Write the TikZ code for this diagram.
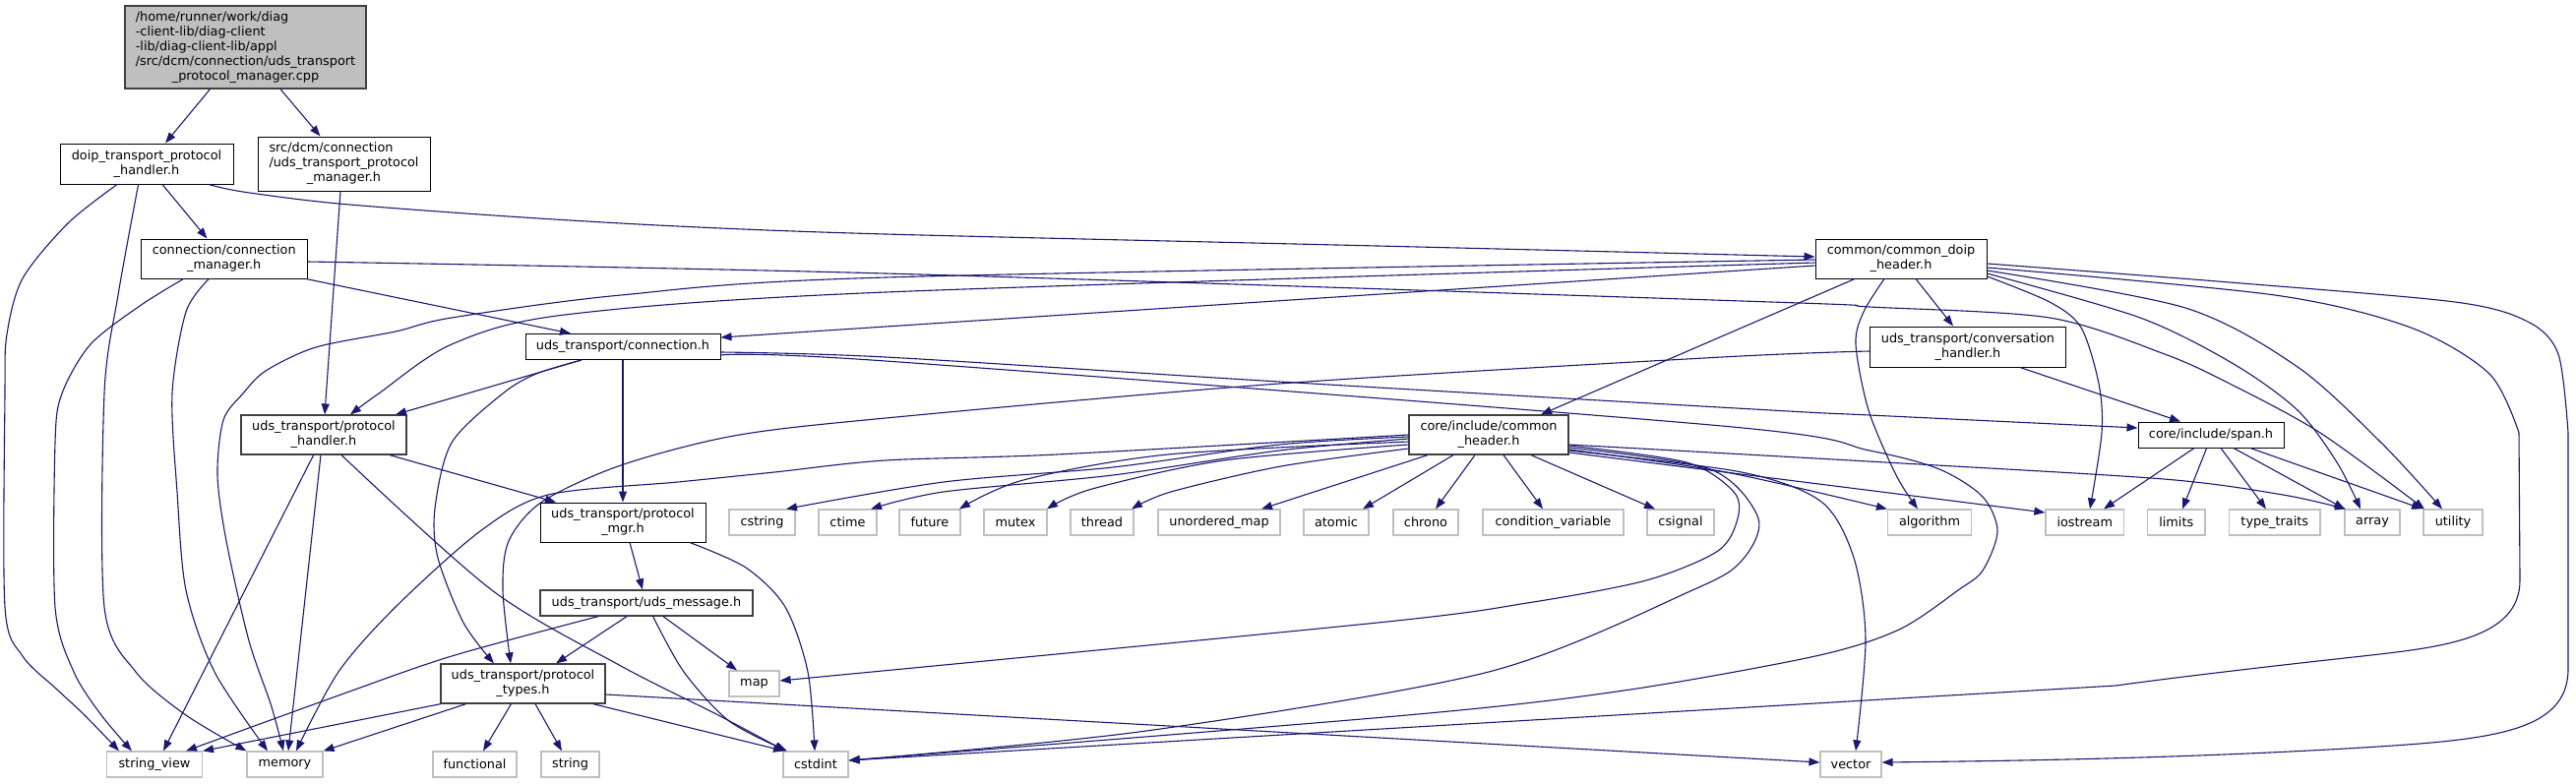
\documentclass[tikz,border=0pt]{standalone}
\usepackage{fontspec}
\setmainfont{DejaVu Sans}
\usetikzlibrary{arrows.meta}
\definecolor{edgecol}{HTML}{191970}
\definecolor{leafgray}{HTML}{BFBFBF}
\definecolor{dgray}{HTML}{404040}
\definecolor{rootfill}{HTML}{BFBFBF}
\newcommand{\nfont}{\fontsize{12.85}{15}\selectfont}
\newcommand{\mlab}[2]{\begin{tabular}{@{}l@{}}#1\\\multicolumn{1}{@{}c@{}}{#2}\end{tabular}}
\tikzset{
  nd/.style={draw=black, fill=white, line width=1pt, inner sep=0pt, font=\nfont, align=center},
  ndg/.style={nd, draw=dgray, line width=1.2pt},
  leaf/.style={nd, draw=leafgray, line width=1.2pt, minimum height=26pt},
  edg/.style={draw=edgecol, line width=1.1pt, -{Triangle[length=11pt,width=8pt]}},
}
\begin{document}
\begin{tikzpicture}[x=1pt,y=-1pt]
\useasboundingbox (0,0) rectangle (2618,796);
% ---- nodes ----
\node[ndg, fill=rootfill, minimum width=245pt, minimum height=84pt] (root) at (249.5,48)
  {\begin{tabular}{@{}l@{}}/home/runner/work/diag\\-client-lib/diag-client\\-lib/diag-client-lib/appl\\/src/dcm/connection/uds\_transport\\\multicolumn{1}{@{}c@{}}{\_protocol\_manager.cpp}\end{tabular}};
\node[nd, minimum width=176pt, minimum height=41pt] (doip) at (149,166.5) {\mlab{doip\_transport\_protocol}{\_handler.h}};
\node[nd, minimum width=175pt, minimum height=55pt] (srcdcm) at (349.5,166.5)
  {\begin{tabular}{@{}l@{}}src/dcm/connection\\/uds\_transport\_protocol\\\multicolumn{1}{@{}c@{}}{\_manager.h}\end{tabular}};
\node[nd, minimum width=168.5pt, minimum height=40pt] (connmgr) at (227.75,263) {\mlab{connection/connection}{\_manager.h}};
\node[nd, minimum width=198pt, minimum height=26pt] (connection) at (633,352.5) {uds\_transport/connection.h};
\node[ndg, minimum width=168pt, minimum height=40pt] (protohandler) at (329,442) {\mlab{uds\_transport/protocol}{\_handler.h}};
\node[nd, minimum width=168pt, minimum height=40pt] (protomgr) at (633,531) {\mlab{uds\_transport/protocol}{\_mgr.h}};
\node[ndg, minimum width=216pt, minimum height=26pt] (udsmsg) at (657,613) {uds\_transport/uds\_message.h};
\node[ndg, minimum width=167pt, minimum height=40pt] (prototypes) at (531.5,695) {\mlab{uds\_transport/protocol}{\_types.h}};
\node[nd, minimum width=174pt, minimum height=40pt] (commondoip) at (1932,263) {\mlab{common/common\_doip}{\_header.h}};
\node[nd, minimum width=198.5pt, minimum height=41pt] (convhandler) at (2000,352.5) {\mlab{uds\_transport/conversation}{\_handler.h}};
\node[ndg, minimum width=162pt, minimum height=40pt] (commonheader) at (1513,442) {\mlab{core/include/common}{\_header.h}};
\node[nd, minimum width=148pt, minimum height=26pt] (span) at (2247,442) {core/include/span.h};
% leaves row 1
\node[leaf, minimum width=67pt] (cstring) at (774.5,531) {cstring};
\node[leaf, minimum width=59pt] (ctime) at (861.5,531) {ctime};
\node[leaf, minimum width=62pt] (future) at (945,531) {future};
\node[leaf, minimum width=64pt] (mutex) at (1032,531) {mutex};
\node[leaf, minimum width=64pt] (thread) at (1120,531) {thread};
\node[leaf, minimum width=124pt] (unorderedmap) at (1239,531) {unordered\_map};
\node[leaf, minimum width=66pt] (atomic) at (1358,531) {atomic};
\node[leaf, minimum width=66pt] (chrono) at (1449,531) {chrono};
\node[leaf, minimum width=143pt] (condvar) at (1578.5,531) {condition\_variable};
\node[leaf, minimum width=68pt] (csignal) at (1708,531) {csignal};
\node[leaf, minimum width=85pt] (algorithm) at (1961,531) {algorithm};
\node[leaf, minimum width=79.5pt] (iostream) at (2118.75,531) {iostream};
\node[leaf, minimum width=58.5pt] (limits) at (2211.75,531) {limits};
\node[leaf, minimum width=92.5pt] (typetraits) at (2311.75,531) {type\_traits};
\node[leaf, minimum width=56pt] (array) at (2411,531) {array};
\node[leaf, minimum width=60pt] (utility) at (2493,531) {utility};
% leaves bottom
\node[leaf, minimum width=51pt] (map) at (766.5,695) {map};
\node[leaf, minimum width=97pt] (stringview) at (157,777) {string\_view};
\node[leaf, minimum width=77pt] (memory) at (289.5,777) {memory};
\node[leaf, minimum width=85pt] (functional) at (482.5,777) {functional};
\node[leaf, minimum width=59pt] (string) at (579.5,777) {string};
\node[leaf, minimum width=66pt] (cstdint) at (829,777) {cstdint};
\node[leaf, minimum width=62pt] (vector) at (1881,777) {vector};
% ---- edges ----
\draw[edg] (root.south -| 213.5,0) -- (doip.north -| 168,0);
\draw[edg] (root.south -| 285,0) -- (srcdcm.north -| 325.5,0);
\draw[edg] (doip.south -| 165,0) -- (connmgr.north -| 210.5,0);
\draw[edg] plot[smooth] coordinates {(doip.south -| 212,0) (247,195) (344,207) (517,220) (689,230) (900,238) (1400,250) (commondoip.west |- 0,261)};
\draw[edg] plot[smooth] coordinates {(doip.south -| 119,0) (69,227) (23,283) (7,340) (5,400) (5,617) (23,667) (57,700) (86,727) (stringview.north -| 121,0)};
\draw[edg] plot[smooth] coordinates {(doip.south -| 140.6,0) (120,300) (106,400) (106,617) (138,683) (189,727) (memory.north west)};
\draw[edg] plot[smooth] coordinates {(connmgr.south -| 186.5,0) (143.5,310) (92,350) (63,400) (56,450) (56,617) (75,683) (103,727) (stringview.north -| 134,0)};
\draw[edg] plot[smooth] coordinates {(connmgr.south -| 212.4,0) (189,317) (175,400) (180,500) (189,600) (218,683) (memory.north -| 272,0)};
\draw[edg] (connmgr.south -| 311,0) -- (connection.north -| 580,0);
\draw[edg] plot[smooth] coordinates {(connmgr.east |- 0,266) (900,278) (1800,307) (1900,312) (2083,323) (2200,360) (2266,390) (2358,440) (utility.north -| 2464,0)};
\draw[edg] (srcdcm.south -| 346,0) -- (protohandler.north -| 330,0);
% common_doip_header
\draw[edg] plot[smooth] coordinates {(commondoip.west |- 0,264) (900,282) (631,300) (459,323) (402,337) (321,353) (270,377) (247,400) (227,427) (221,483) (230,550) (252.6,650) (275.5,717) (memory.north -| 288,0)};
\draw[edg] plot[smooth] coordinates {(commondoip.west |- 0,267) (900,297) (574,320) (459,350) (385,400) (protohandler.north -| 356,0)};
\draw[edg] (commondoip.west |- 0,270) -- (connection.east |- 0,343);
\draw[edg] (commondoip.south -| 1885,0) -- (commonheader.north -| 1566,0);
\draw[edg] (commondoip.south -| 1947,0) -- (convhandler.north -| 1985,0);
\draw[edg] plot[smooth] coordinates {(commondoip.south -| 1915,0) (1894,317) (1886,350) (1899,417) (1927,483) (algorithm.north -| 1949,0)};
\draw[edg] plot[smooth] coordinates {(commondoip.east |- 0,281) (2083,307) (2115,333) (2133,390) (2136,440) (iostream.north -| 2124,0)};
\draw[edg] plot[smooth] coordinates {(commondoip.east |- 0,278) (2175,323) (2270,370) (2335,417) (2375,470) (array.north -| 2399,0)};
\draw[edg] plot[smooth] coordinates {(commondoip.east |- 0,275) (2221,313) (2335,373) (2420,450) (utility.north -| 2482,0)};
\draw[edg] plot[smooth] coordinates {(commondoip.east |- 0,268) (2266,287) (2495,307) (2569,327) (2600,360) (2610,440)} -- (2610,680) .. controls (2610,745) and (2530,752) .. (2401,760) .. controls (2250,769) and (2100,773) .. (vector.east |- 0,775);
\draw[edg] plot[smooth] coordinates {(commondoip.east |- 0,272) (2312,300) (2450,333) (2530,380) (2560,440)} -- (2561,590) .. controls (2561,650) and (2480,658) .. (2401,667) .. controls (2300,678) and (2200,690) .. (2150,697) -- (cstdint.east |- 0,773);
% connection.h
\draw[edg] (connection.south -| 591,0) -- (protohandler.north -| 402,0);
\draw[edg] plot[smooth] coordinates {(connection.south -| 591,0) (545,380) (511,400) (459,450) (442,517) (445,567) (471,633) (prototypes.north -| 502,0)};
\draw[edg] (connection.south) -- (protomgr.north);
\draw[edg] plot[smooth] coordinates {(connection.east |- 0,358) (900,363) (1300,388) (1800,417) (1900,422) (span.west |- 0,435)};
\draw[edg] plot[smooth] coordinates {(connection.east |- 0,361) (900,367) (1750,433) (1900,458) (1971,477) (2015,505) (2030,540) (2015,580) (1990,600) (1930,640) (1845,667) (1650,702) (1430,727) (cstdint.east |- 0,773)};
% conversation handler
\draw[edg] (convhandler.south -| 2053,0) -- (span.north -| 2216,0);
\draw[edg] plot[smooth] coordinates {(convhandler.west |- 0,357) (1750,363) (1300,390) (900,425) (746,443) (631,473) (551,510) (517,550) (511,600) (prototypes.north -| 519,0)};
% common_header
\draw[edg] plot[smooth] coordinates {(commonheader.west |- 0,442) (1074,462) (900,468) (787,480) (689,490) (557,503) (488,540) (402,617) (344,683) (memory.north -| 301,0)};
\draw[edg] plot[smooth] coordinates {(commonheader.west |- 0,444) (1300,452) (1131,475) (959,490) (cstring.north -| 799,0)};
\draw[edg] plot[smooth] coordinates {(commonheader.west |- 0,446) (1300,458) (1131,483) (959,500) (ctime.north -| 885,0)};
\draw[edg] plot[smooth] coordinates {(commonheader.west |- 0,449) (1187,462) (1040,488) (future.north -| 975,0)};
\draw[edg] plot[smooth] coordinates {(commonheader.west |- 0,452) (1244,468) (1110,497) (mutex.north -| 1064,0)};
\draw[edg] plot[smooth] coordinates {(commonheader.west |- 0,456) (1302,474) (1190,500) (thread.north -| 1150,0)};
\draw[edg] (commonheader.south -| 1451,0) -- (unorderedmap.north -| 1282,0);
\draw[edg] (commonheader.south -| 1477,0) -- (atomic.north -| 1385,0);
\draw[edg] (commonheader.south -| 1499,0) -- (chrono.north -| 1459,0);
\draw[edg] (commonheader.south -| 1528,0) -- (condvar.north -| 1568,0);
\draw[edg] (commonheader.south -| 1556,0) -- (csignal.north -| 1682,0);
\draw[edg] plot[smooth] coordinates {(commonheader.east |- 0,457) (1754,480) (algorithm.north west)};
\draw[edg] (commonheader.east |- 0,460) -- (iostream.west |- 0,521);
\draw[edg] plot[smooth] coordinates {(commonheader.east |- 0,452) (1916,470) (2199,487) (2320,503) (array.north -| 2384,0)};
\draw[edg] plot[smooth] coordinates {(commonheader.east |- 0,453) (1714,470) (1762,500) (1766,527) (1746,560) (1673,590) (1552,613) (1400,633) (map.east |- 0,692)};
\draw[edg] plot[smooth] coordinates {(commonheader.east |- 0,455) (1738,477) (1787,527) (1770,570) (1720,600) (1513,683) (1165,743) (cstdint.east |- 0,773)};
\draw[edg] plot[smooth] coordinates {(commonheader.east |- 0,458) (1770,480) (1851,510) (1884,567) (1896,650) (vector.north -| 1886,0)};
% span
\draw[edg] (span.south -| 2230,0) -- (iostream.north -| 2138,0);
\draw[edg] (span.south -| 2242.6,0) -- (limits.north -| 2218,0);
\draw[edg] (span.south -| 2257,0) -- (typetraits.north -| 2303,0);
\draw[edg] (span.south -| 2270,0) -- (array.north -| 2383,0);
\draw[edg] (span.south -| 2287,0) -- (utility.north -| 2462,0);
% protocol handler / mgr / message / types
\draw[edg] (protohandler.south -| 396,0) -- (protomgr.north -| 565,0);
\draw[edg] (protohandler.south -| 318.6,0) -- (stringview.north -| 166,0);
\draw[edg] (protohandler.south -| 326,0) -- (memory.north -| 293,0);
\draw[edg] plot[smooth] coordinates {(protohandler.south -| 347,0) (500,600) (631,677) (730,727) (cstdint.north -| 798,0)};
\draw[edg] (protomgr.south -| 640,0) -- (udsmsg.north -| 653,0);
\draw[edg] plot[smooth] coordinates {(protomgr.south -| 701,0) (758,577) (798,617) (821,683) (cstdint.north -| 828,0)};
\draw[edg] plot[smooth] coordinates {(udsmsg.south -| 608,0) (459,667) (344,707) (stringview.north -| 189,0)};
\draw[edg] (udsmsg.south -| 637,0) -- (prototypes.north -| 565,0);
\draw[edg] (udsmsg.south -| 674,0) -- (map.north -| 749,0);
\draw[edg] plot[smooth] coordinates {(udsmsg.south -| 663.6,0) (695,683) (741,733) (cstdint.north -| 800,0)};
\draw[edg] (prototypes.south -| 448,0) -- (stringview.north east);
\draw[edg] (prototypes.south -| 473.6,0) -- (memory.north east);
\draw[edg] (prototypes.south -| 519.5,0) -- (functional.north -| 491,0);
\draw[edg] (prototypes.south -| 544,0) -- (string.north -| 571,0);
\draw[edg] (prototypes.south -| 602.7,0) -- (cstdint.north -| 797,0);
\draw[edg] (prototypes.east |- 0,706) -- (vector.west |- 0,775);
\end{tikzpicture}
\end{document}
